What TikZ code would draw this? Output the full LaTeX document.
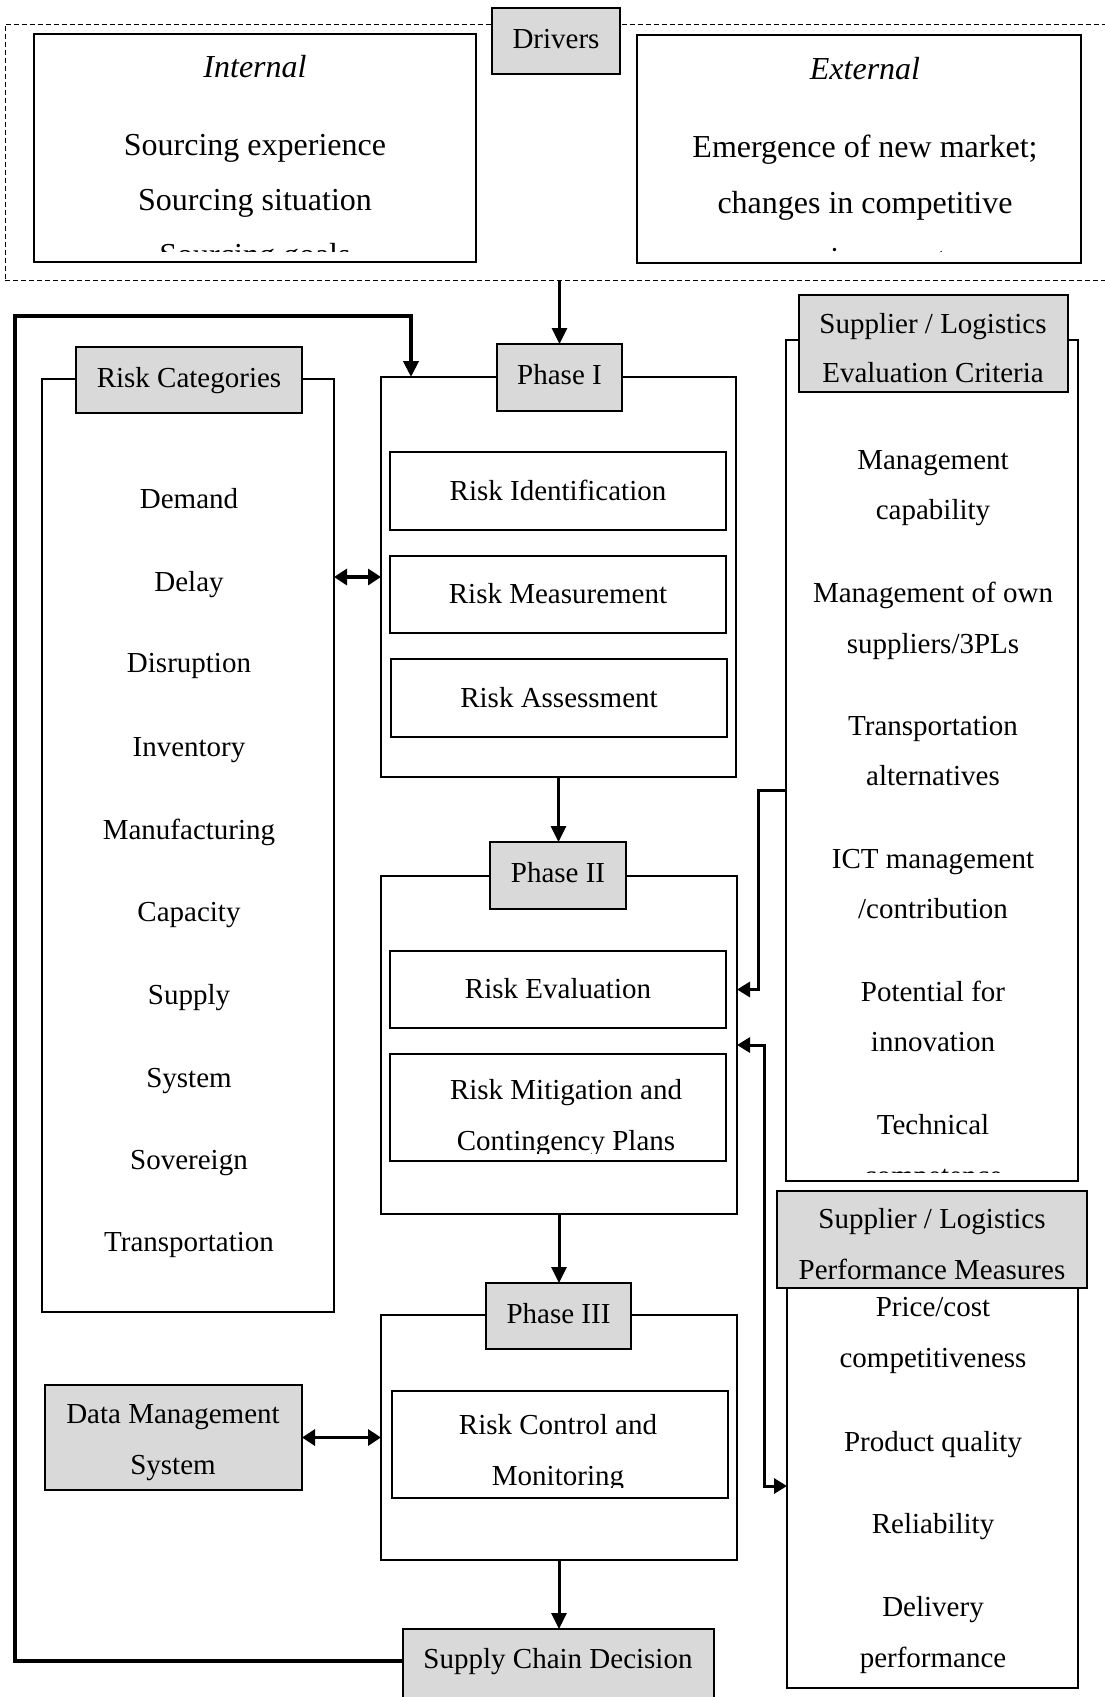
\documentclass[tikz,border=0pt]{standalone}
\usepackage{fontspec}
\setmainfont{Liberation Serif}
\usetikzlibrary{arrows.meta}
\definecolor{labgray}{RGB}{217,217,217}
\tikzset{
  box/.style={draw, line width=1.3pt, fill=white, inner sep=0pt, outer sep=0pt, anchor=north west},
  lab/.style={draw, line width=1.3pt, fill=labgray, inner sep=0pt, outer sep=0pt, anchor=north west,
              font=\fontsize{29}{35}\selectfont, text height=19pt, text depth=5pt},
  dashbox/.style={draw, line width=1pt, dash pattern=on 5pt off 3pt, inner sep=0pt, outer sep=0pt, anchor=north west},
  txt/.style={inner sep=0pt, anchor=base, font=\fontsize{29}{35}\selectfont},
  bigtxt/.style={inner sep=0pt, anchor=base, font=\fontsize{32}{38}\selectfont},
  arr/.style={line width=3pt, -{Triangle[length=16pt,width=15pt]}},
  dbl/.style={line width=3.5pt, {Triangle[length=13pt,width=16pt]}-{Triangle[length=13pt,width=16pt]}},
  loopline/.style={line width=4pt, line join=miter, -{Triangle[length=16pt,width=15pt]}},
  elbowarr/.style={line width=3pt, line join=miter, -{Triangle[length=13pt,width=15pt]}},
  elbowdbl/.style={line width=3pt, line join=miter, {Triangle[length=13pt,width=15pt]}-{Triangle[length=13pt,width=15pt]}},
}
\begin{document}
\begin{tikzpicture}[x=1pt,y=-1pt]
\useasboundingbox (0,0) rectangle (1105,1697);

% ---------- Drivers zone ----------
\node[dashbox, minimum width=1115pt, minimum height=256pt] (drvzone) at (5,24) {};
\node[box, minimum width=442pt, minimum height=228pt] (internal) at (34,34) {};
\node[box, minimum width=444pt, minimum height=228pt] (external) at (637,35) {};
\node[lab, minimum width=128pt, minimum height=66pt] (drivers) at (492,8) {Drivers};

\node[bigtxt] (intT) at (255,77) {\itshape Internal};
\node[bigtxt] (int1) at (255,155) {Sourcing experience};
\node[bigtxt] (int2) at (255,210) {Sourcing situation};
\begin{scope}
  \clip (34,34) rectangle (476,251);
  \node[bigtxt] (int3) at (255,265) {Sourcing goals};
\end{scope}
\node[bigtxt] (extT) at (865,79) {\itshape External};
\node[bigtxt] (ext1) at (865,157) {Emergence of new market;};
\node[bigtxt] (ext2) at (865,213) {changes in competitive};
\begin{scope}
  \clip (637,35) rectangle (1081,251);
  \node[bigtxt] (ext3) at (865,269) {environment};
\end{scope}

% ---------- Phase I ----------
\node[box, minimum width=355pt, minimum height=400pt] (p1c) at (381,377) {};
\node[lab, minimum width=125pt, minimum height=67pt] (p1lab) at (497,344) {Phase I};
\node[box, minimum width=336pt, minimum height=78pt, font=\fontsize{29}{35}\selectfont, text height=19pt, text depth=1pt] (rid) at (390,452) {Risk Identification};
\node[box, minimum width=336pt, minimum height=77pt, font=\fontsize{29}{35}\selectfont, text height=19pt, text depth=1pt] (rmeas) at (390,556) {Risk Measurement};
\node[box, minimum width=336pt, minimum height=78pt, font=\fontsize{29}{35}\selectfont, text height=19pt, text depth=1pt] (rass) at (391,659) {Risk Assessment};

% ---------- Phase II ----------
\node[box, minimum width=356pt, minimum height=338pt] (p2c) at (381,876) {};
\node[lab, minimum width=136pt, minimum height=67pt] (p2lab) at (490,842) {Phase II};
\node[box, minimum width=336pt, minimum height=77pt, font=\fontsize{29}{35}\selectfont, text height=19pt, text depth=1pt] (reval) at (390,951) {Risk Evaluation};
\node[box, minimum width=336pt, minimum height=107pt] (rmit) at (390,1054) {};
\begin{scope}
  \clip (390,1054) rectangle (726,1153);
  \node[txt] (rmit1) at (566,1099) {Risk Mitigation and};
  \node[txt] (rmit2) at (566,1150) {Contingency Plans};
\end{scope}

% ---------- Phase III ----------
\node[box, minimum width=356pt, minimum height=245pt] (p3c) at (381,1315) {};
\node[lab, minimum width=145pt, minimum height=66pt] (p3lab) at (486,1283) {Phase III};
\node[box, minimum width=336pt, minimum height=107pt] (rctl) at (392,1391) {};
\begin{scope}
  \clip (392,1391) rectangle (728,1487);
  \node[txt] (rctl1) at (558,1434) {Risk Control and};
  \node[txt] (rctl2) at (558,1485) {Monitoring};
\end{scope}

% ---------- Supply Chain Decision ----------
\node[lab, minimum width=311pt, minimum height=100pt] (scd) at (403,1629) {};
\node[txt] (scdT) at (558,1668) {Supply Chain Decision};

% ---------- Risk Categories ----------
\node[box, minimum width=292pt, minimum height=933pt] (rcc) at (42,379) {};
\node[lab, minimum width=226pt, minimum height=66pt] (rclab) at (76,347) {Risk Categories};
\node[txt] (rc1) at (189,508) {Demand};
\node[txt] (rc2) at (189,591) {Delay};
\node[txt] (rc3) at (189,672) {Disruption};
\node[txt] (rc4) at (189,756) {Inventory};
\node[txt] (rc5) at (189,839) {Manufacturing};
\node[txt] (rc6) at (189,921) {Capacity};
\node[txt] (rc7) at (189,1004) {Supply};
\node[txt] (rc8) at (189,1087) {System};
\node[txt] (rc9) at (189,1169) {Sovereign};
\node[txt] (rc10) at (189,1251) {Transportation};

% ---------- Evaluation criteria ----------
\node[box, minimum width=292pt, minimum height=841pt] (evalc) at (786,340) {};
\node[lab, minimum width=269pt, minimum height=97pt] (evallab) at (799,295) {};
\node[txt] (el1) at (933,333) {Supplier / Logistics};
\node[txt] (el2) at (933,382) {Evaluation Criteria};
\node[txt] (ev1) at (933,469) {Management};
\node[txt] (ev2) at (933,519) {capability};
\node[txt] (ev3) at (933,602) {Management of own};
\node[txt] (ev4) at (933,653) {suppliers/3PLs};
\node[txt] (ev5) at (933,735) {Transportation};
\node[txt] (ev6) at (933,785) {alternatives};
\node[txt] (ev7) at (933,868) {ICT management};
\node[txt] (ev8) at (933,918) {/contribution};
\node[txt] (ev9) at (933,1001) {Potential for};
\node[txt] (ev10) at (933,1051) {innovation};
\node[txt] (ev11) at (933,1134) {Technical};
\begin{scope}
  \clip (786,340) rectangle (1078,1172);
  \node[txt] (ev12) at (933,1185) {competence};
\end{scope}

% ---------- Performance measures ----------
\node[box, minimum width=291pt, minimum height=448pt] (perfc) at (787,1240) {};
\node[lab, minimum width=310pt, minimum height=97pt] (perflab) at (777,1191) {};
\node[txt] (pl1) at (932,1228) {Supplier / Logistics};
\begin{scope}
  \clip (777,1191) rectangle (1087,1284);
  \node[txt] (pl2) at (932,1279) {Performance Measures};
\end{scope}
\node[txt] (pm1) at (933,1316) {Price/cost};
\node[txt] (pm2) at (933,1367) {competitiveness};
\node[txt] (pm3) at (933,1451) {Product quality};
\node[txt] (pm4) at (933,1533) {Reliability};
\node[txt] (pm5) at (933,1616) {Delivery};
\node[txt] (pm6) at (933,1667) {performance};

% ---------- Data Management System ----------
\node[lab, minimum width=257pt, minimum height=105pt] (dms) at (45,1385) {};
\node[txt] (dms1) at (173,1423) {Data Management};
\node[txt] (dms2) at (173,1474) {System};

% ---------- connectors ----------
\draw[arr] (drvzone.south -| p1lab.north) -- (p1lab.north);
\draw[arr] (p1c.south) -- (p1c.south |- p2lab.north);
\draw[arr] (p2c.south) -- (p2c.south |- p3lab.north);
\draw[arr] (p3c.south) -- (p3c.south |- scd.north);
\draw[dbl] (rcc.east |- p1c.west) -- (p1c.west);
\draw[dbl] (dms.east) -- (p3c.west);
\coordinate (lpA) at (15,316);
\coordinate (lpB) at (411,316);
\draw[loopline] ([yshift=18pt]scd.west) -| (lpA) -- (lpB) -- (lpB |- p1c.north);
\draw[elbowarr] ([yshift=-29.5pt]evalc.west) -- ++(-28,0) |- (p2c.east |- reval.center);
\draw[elbowdbl] (p2c.east) -- ++(27,0) |- ([yshift=-22pt]perfc.west);
\end{tikzpicture}
\end{document}
